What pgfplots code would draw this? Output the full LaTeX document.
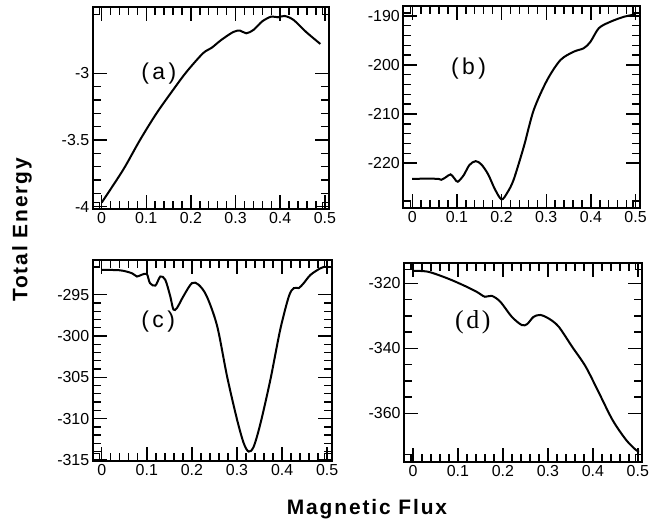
\documentclass[border=0pt]{standalone}
\usepackage{fontspec}
\setmainfont{Liberation Sans}
\setsansfont{Liberation Sans}
\newfontfamily\lblfont[LetterSpace=9]{Liberation Sans}
\newfontfamily\panfont[LetterSpace=15]{Liberation Sans}
\newfontfamily\serfont[LetterSpace=10]{Liberation Serif}
\usepackage{pgfplots}
\pgfplotsset{compat=1.18}

\pgfplotsset{
  panel/.style={
    scale only axis, anchor=south west,
    xmin=-0.02, xmax=0.51,
    xtick={0,0.1,0.2,0.3,0.4,0.5},
    xticklabels={0,0.1,0.2,0.3,0.4,0.5},
    minor x tick num=4,
    tick align=inside,
    major tick length=14bp, minor tick length=8bp,
    every tick/.style={black, line width=1.4bp},
    axis line style={line width=2bp},
    tick label style={font=\fontsize{16}{16}\selectfont},
    /pgf/number format/assume math mode=true,
    clip=false,
  },
  curve/.style={black, line width=2bp, smooth, no markers},
}
\tikzset{plab/.style={font=\panfont\fontsize{23}{23}\selectfont}}

% small squares drawn in the corners of every frame
\newcommand{\corners}{%
  \draw[line width=1.3bp] (rel axis cs:0,0) rectangle ++(7bp,7bp);
  \draw[line width=1.3bp] (rel axis cs:1,0) rectangle ++(-7bp,7bp);
  \draw[line width=1.3bp] (rel axis cs:0,1) rectangle ++(7bp,-7bp);
  \draw[line width=1.3bp] (rel axis cs:1,1) rectangle ++(-7bp,-7bp);
}

\begin{document}
\begin{tikzpicture}
\path[use as bounding box] (0,0) rectangle (650bp,522bp);

% (a)
\begin{axis}[panel, at={(92.7bp,312.7bp)}, width=236.6bp, height=202bp,
    ymin=-4.02, ymax=-2.505, ytick={-4,-3.5,-3}, minor y tick num=4]
\addplot[curve] coordinates {
 (0,-3.97) (0.048,-3.725) (0.086,-3.5) (0.123,-3.3) (0.16,-3.125)
 (0.19,-2.99) (0.227,-2.85) (0.246,-2.81) (0.268,-2.75) (0.295,-2.69)
 (0.31,-2.68) (0.324,-2.70) (0.34,-2.675) (0.36,-2.61) (0.38,-2.575)
 (0.395,-2.58) (0.41,-2.57) (0.43,-2.6) (0.458,-2.69) (0.49,-2.78)};
\node[plab] at (axis cs:0.128,-3.0) {(a)};
\corners
\end{axis}

% (b)
\begin{axis}[panel, at={(403.3bp,314bp)}, width=236.7bp, height=202bp,
    ymin=-229.15, ymax=-188.0, ytick={-220,-210,-200,-190}, minor y tick num=4]
\addplot[curve] coordinates {
 (0,-223.2) (0.055,-223.2) (0.065,-223.4) (0.075,-222.9) (0.086,-222.3)
 (0.095,-223.2) (0.102,-223.8) (0.115,-222.5) (0.128,-220.4) (0.142,-219.6)
 (0.155,-220.3) (0.17,-222.3) (0.185,-225.3) (0.2,-227.4) (0.213,-226.0)
 (0.227,-223.4) (0.25,-216.6) (0.272,-209.2) (0.302,-203.1) (0.332,-199)
 (0.362,-197.3) (0.384,-196.6) (0.399,-195.3) (0.418,-192.5) (0.444,-191.2)
 (0.474,-190.2) (0.5,-189.7)};
\node[plab] at (axis cs:0.126,-200.7) {(b)};
\corners
\end{axis}

% (c)
\begin{axis}[panel, at={(92.7bp,61.3bp)}, width=239bp, height=200.7bp,
    ymin=-315.1, ymax=-290.8, ytick={-315,-310,-305,-300,-295}, minor y tick num=4]
\addplot[curve] coordinates {
 (0,-292.0) (0.041,-292.05) (0.067,-292.4) (0.078,-292.8) (0.088,-292.6)
 (0.1,-292.5) (0.107,-293.6) (0.119,-293.9) (0.13,-292.8) (0.141,-293.2)
 (0.152,-295.2) (0.159,-296.8) (0.167,-296.6) (0.181,-295.2) (0.2,-293.6)
 (0.215,-293.8) (0.233,-295.2) (0.256,-298.8) (0.278,-304.9) (0.3,-310.1)
 (0.315,-313) (0.326,-314) (0.337,-313.4) (0.352,-310.6) (0.374,-305.3)
 (0.396,-299.2) (0.415,-295.2) (0.426,-294.2) (0.437,-294.2) (0.448,-293.6)
 (0.463,-292.6) (0.485,-291.8) (0.496,-291.6)};
\node[plab] at (axis cs:0.125,-298.3) {(c)};
\corners
\end{axis}

% (d)
\begin{axis}[panel, at={(404bp,60.3bp)}, width=238.3bp, height=199bp,
    ymin=-374.9, ymax=-313.6, ytick={-360,-340,-320}, minor y tick num=3]
\addplot[curve] coordinates {
 (0,-316.1) (0.034,-316.4) (0.078,-318.5) (0.116,-320.8) (0.142,-322.6)
 (0.16,-324.1) (0.175,-323.8) (0.194,-325.6) (0.22,-330.3) (0.242,-332.8)
 (0.254,-332.5) (0.268,-330.3) (0.283,-329.7) (0.302,-330.8) (0.324,-333.3)
 (0.354,-339.5) (0.384,-345.6) (0.414,-353.8) (0.444,-362.1) (0.474,-368.2)
 (0.496,-371.3) (0.503,-371.8)};
\node[font=\serfont\fontsize{26}{26}\selectfont] at (axis cs:0.133,-331.8) {(d)};
\corners
\end{axis}

\node[rotate=90, font=\lblfont\bfseries\fontsize{21}{21}\selectfont] at (22bp,292bp) {Total Energy};
\node[font=\lblfont\bfseries\fontsize{21}{21}\selectfont] at (367bp,13bp) {Magnetic Flux};
\end{tikzpicture}
\end{document}
